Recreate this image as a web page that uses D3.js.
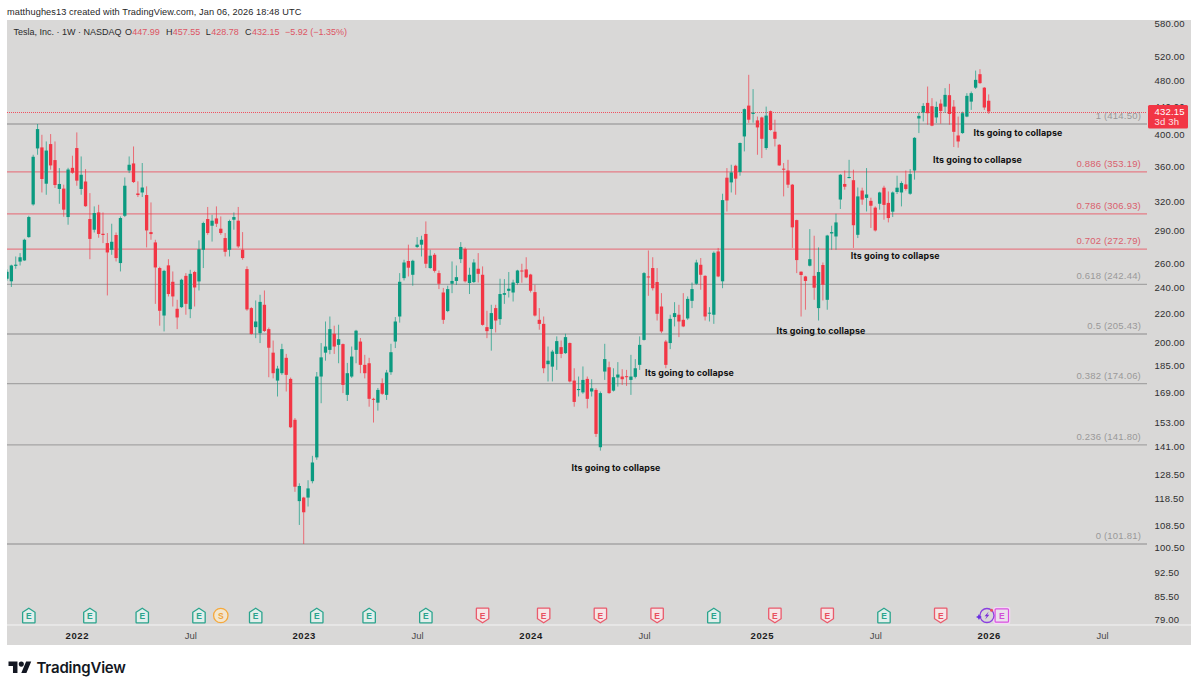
<!DOCTYPE html>
<html>
<head>
<meta charset="utf-8">
<script src="https://cdn.jsdelivr.net/npm/d3@7"></script>
<style>
    html, body { margin: 0; padding: 0; background: #fff; }
    svg { display: block; font-family: "Liberation Sans", sans-serif; }
    .domain { display: none; }
</style>
</head>
<body>
<svg id="chart"></svg>
<script>
// weekly candles
var opens = [
    247.1, 245, 258, 261.7, 262.7, 284, 316.8, 382, 383.3, 339.5,
    387.6, 367.4, 333.6, 334, 303.7, 358, 382.5, 333.6, 342, 301.7,
    291.1, 308.4, 287.2, 278.4, 272.2, 286, 260.4, 305, 354.8, 363.3,
    328.6, 329.7, 326.9, 288.8, 279, 256.1, 218.5, 258.4, 244.6, 223.5,
    224.7, 249.5, 223.2, 252.7, 244.9, 272.2, 301.7, 295, 302.3, 292.1,
    283.1, 272.2, 301, 300, 272.2, 255.2, 224, 210.2, 206, 226.5,
    208.8, 193, 175.8, 180.2, 189.7, 176.8, 154.2, 117.5, 118.9, 118.9,
    125.6, 136, 178.2, 193, 194.8, 205.6, 198.1, 198.6, 167.6, 178.2,
    194.8, 200.3, 185.3, 186.3, 165.4, 163.3, 174.3, 167.6, 180.8, 200.3,
    217.8, 247.6, 262.2, 250.4, 274.8, 276.9, 287, 256.1, 267.7, 251.8,
    236, 221.8, 243, 245.3, 263.8, 273, 243.6, 244.4, 255.5, 250.4,
    210.2, 208.9, 224, 215.9, 234.2, 237.3, 236, 243.6, 254, 254.9,
    250.6, 236.3, 215.4, 212.5, 185.7, 184.2, 192.2, 196.6, 192.7, 199.3,
    175.8, 170.3, 169, 176.8, 169.5, 170.4, 140.7, 181.2, 183.8, 170,
    177.6, 178.2, 178.4, 176.2, 178, 185.3, 201.4, 249, 256.1, 244.4,
    225.2, 200.3, 199.3, 217.4, 219.1, 215.4, 216.4, 229.5, 243, 258.9,
    249.5, 220, 219.1, 270.7, 245, 346.4, 341, 360.5, 353, 397.6,
    440.8, 428.7, 419.5, 423.7, 382.5, 432.6, 403.9, 386.7, 357, 354.8,
    338.4, 300.6, 253, 249, 258.1, 249.5, 224, 258.7, 230.3, 287.5,
    284.6, 322, 339.2, 346, 343.5, 286.2, 331.8, 323.8, 320.6, 313.4,
    317.5, 335, 318.4, 309.2, 330.2, 329.7, 338.7, 328.3, 354.8, 422.2,
    430.6, 444.8, 439.9, 423.7, 443.8, 439.3, 456.4, 439.3, 398.9, 402.1,
    424.9, 446.7, 468, 489.6, 468, 447.99
];
var highs = [
    255, 259, 266.2, 269.2, 282.5, 305, 374, 414.5, 399.8, 391,
    400.8, 391, 357.7, 338.4, 358, 372.8, 403, 371.9, 356.5, 329,
    314.7, 316.4, 308.4, 287.9, 297, 288.4, 304.3, 346.7, 371.9, 384.5,
    342.2, 363.8, 336.5, 318.9, 281.5, 257.2, 254.6, 263.8, 253.2, 230.3,
    247.1, 251.8, 254.6, 253.7, 280.9, 299, 314.1, 306, 314.7, 304.3,
    287.9, 301, 308.4, 314.1, 288.8, 257.5, 224.7, 229.8, 234.2, 237.6,
    209.9, 201, 184.7, 198.8, 192.2, 177.6, 155.1, 124.7, 119.2, 126,
    136.7, 180.9, 199.3, 214.2, 217.8, 211.2, 211.9, 199, 186.5, 197,
    208.3, 202.7, 191.6, 189.7, 166, 171.5, 177.1, 182.2, 198.8, 217.4,
    251.8, 263.3, 276.9, 263.3, 284, 285.3, 299.3, 272.2, 269.2, 254,
    239.6, 241.4, 261.8, 258.3, 279.3, 274.4, 256.4, 263.8, 269.2, 257.5,
    222, 226.5, 226.5, 247.1, 246.8, 252.7, 246.3, 254.6, 259.8, 265.5,
    251.2, 242.2, 224, 217.8, 197, 194.8, 203.8, 201, 205.6, 199.7,
    183.2, 178.2, 184.3, 178.2, 176.6, 171.4, 169.5, 198.8, 187.3, 183.2,
    187, 182.6, 182.2, 191.6, 188.9, 203.8, 252.7, 271.6, 265.5, 256.1,
    235.5, 201.4, 219.1, 228.5, 226.5, 235.5, 232.9, 244, 263.3, 264.8,
    250, 224.7, 270.7, 273.9, 328.3, 357.7, 361.7, 361.7, 389.7, 436.6,
    488.54, 465.8, 424.9, 424.9, 439.3, 433.5, 420.5, 387.6, 363.8, 367.7,
    339.2, 301, 253.2, 249.5, 291.7, 285.3, 274.4, 260.9, 286.2, 295,
    307.1, 350.6, 354.8, 367.7, 355.8, 335.2, 335, 357.7, 324, 314.7,
    330.5, 337.2, 330.8, 330.8, 348.7, 342.2, 354.8, 356.5, 396.7, 430.6,
    444.4, 469.8, 451.9, 446.7, 450, 467.3, 474, 449, 424.9, 432,
    459.5, 462, 495.5, 497.8, 469, 457.55
];
var lows = [
    245.5, 240.4, 255.5, 258.3, 262.4, 283.4, 315.5, 374, 329.7, 327.2,
    355.8, 334.7, 317.5, 304, 296, 351, 337.2, 327.2, 314.3, 263.8,
    288.4, 283.4, 278.4, 233.7, 267.7, 261.8, 253.2, 303.7, 351.8, 340.3,
    324.7, 324.7, 274.4, 281.5, 227.2, 211.2, 207.2, 232.9, 225.2, 208.8,
    224.2, 219.1, 216.6, 225.2, 237.6, 256.1, 286.2, 279.8, 293.8, 286.2,
    266.2, 266.2, 291.1, 273.9, 263.3, 222, 205, 202.6, 199.3, 206.8,
    177.8, 177.1, 166.7, 179.2, 169.5, 150, 121.2, 108.5, 101.81, 115.4,
    124.7, 134.9, 163, 187.9, 192, 192.2, 186.3, 168.6, 164.2, 177.4,
    186.3, 180.2, 177.1, 161.1, 152.8, 159, 167.6, 164.8, 179.2, 196,
    213.4, 245.7, 249, 241.4, 273.9, 266.2, 256.1, 255.5, 252.3, 238.7,
    212.5, 221, 235.5, 242, 260.4, 244, 234.8, 243.6, 244, 211.2,
    202.6, 194.3, 206.5, 211.8, 227.2, 232.1, 229, 242.2, 243.8, 247.6,
    236, 217.8, 208.4, 180.2, 175.3, 175.3, 182.2, 189.5, 192.2, 174.7,
    161.1, 166.7, 168.2, 160.2, 166.7, 145.6, 139.1, 176.2, 168.2, 169.5,
    172.3, 173.3, 172.7, 167.6, 177.1, 182.2, 201, 233.4, 237.6, 214.9,
    206, 183.2, 195.3, 210.7, 203.3, 210.2, 215.4, 224, 242.2, 238.2,
    214.9, 214.2, 212.5, 248.4, 239.4, 309.4, 329.7, 327.2, 348.7, 378.2,
    415.9, 416.3, 374, 369.9, 380.2, 405.3, 384.5, 360.5, 325.4, 334.7,
    273.9, 251.8, 217.8, 222.8, 257.5, 230.3, 214.9, 229.8, 222.8, 272.2,
    272.2, 312, 332.8, 345.6, 273.9, 283.1, 316.4, 309.4, 292.8, 289.4,
    311.3, 301, 298.3, 303.7, 328, 314.7, 331.8, 327.2, 344.2, 402.1,
    418.1, 413.5, 411.4, 415.9, 414.9, 430.1, 413.5, 383.8, 383, 401.2,
    424, 434.5, 466, 474, 434.5, 428.78
];
var closes = [
    252.9, 258.3, 259, 265.5, 281.5, 303.7, 371.5, 407.5, 344.9, 379.3,
    360.9, 338, 339.2, 311.3, 356, 352.2, 343, 349.8, 314.9, 282.3,
    307.8, 287, 286, 269.8, 279.6, 264.8, 302.7, 337.2, 361.7, 341.4,
    326.9, 335.2, 290.4, 286.9, 256.6, 222, 253.7, 234.8, 232.9, 217.1,
    246.3, 227.2, 251.2, 240, 272.7, 297.7, 287.9, 300, 297, 287.9,
    270.4, 299.7, 303.7, 275.3, 264.8, 223, 205.4, 214.2, 228.7, 207.5,
    196.2, 180.2, 183, 195.3, 179.2, 150.4, 123.3, 123.6, 113.2, 122.6,
    133.7, 178.2, 190, 197, 208.8, 197, 201.9, 173.3, 180.2, 190.5,
    207.7, 185.3, 180.2, 165.4, 165, 170.4, 168.2, 180.6, 193.3, 214.2,
    244.6, 260.9, 256.4, 262.4, 276.9, 281.5, 259.8, 266.9, 253.7, 243,
    215.4, 238.7, 245.3, 248.4, 274.8, 245, 250.4, 260.9, 251.2, 211.8,
    207.4, 220.3, 214.9, 234.8, 235.5, 239, 244, 254, 253.2, 248.2,
    237.4, 218.5, 212.5, 183.2, 187.9, 193.7, 200.6, 192.2, 203.3, 175.3,
    163.7, 170.9, 176.2, 165.4, 171.3, 147.1, 168.6, 188.9, 168.6, 177.8,
    179.4, 176.6, 178, 178.2, 183.2, 198.1, 251.8, 248.4, 239.4, 219.8,
    207.2, 185.3, 216.1, 220.3, 214.2, 210.7, 231, 238.7, 260.9, 250.4,
    217.8, 220.6, 269.5, 249, 321.4, 321, 352.5, 345.3, 389, 435.6,
    420.5, 430.6, 409.8, 394.5, 426.3, 406.3, 394.5, 360.9, 355.8, 338.4,
    293.4, 263, 250.2, 245.3, 263.8, 239.8, 252.7, 242.2, 285.5, 288.8,
    298.3, 349.8, 336.1, 347.2, 295.5, 325.4, 322, 327.5, 315.4, 290.4,
    329.7, 316.3, 302.7, 329.7, 335, 340.3, 333.6, 350.6, 395.8, 425.9,
    440.3, 429.7, 412.2, 438.9, 433, 456.9, 428.7, 403.8, 391, 429.7,
    455.4, 459.5, 480.4, 475.2, 438, 432.15
];

var firstWeek = '2021-09-13';
var lastWeek = '2026-01-05';

var priceTicks = [79, 85.5, 92.5, 100.5, 108.5, 118.5, 128.5, 141, 153, 169, 185, 200, 220, 240, 260, 290, 320, 360, 400, 440, 480, 520, 580];
var timeTicks = ['2022-01-03', '2022-07-04', '2023-01-02', '2023-07-03', '2024-01-01', '2024-07-01', '2025-01-06', '2025-07-07', '2026-01-05', '2026-07-06'];
var timeLabels = ['2022', 'Jul', '2023', 'Jul', '2024', 'Jul', '2025', 'Jul', '2026', 'Jul'];

var fibRatios = ['1', '0.886', '0.786', '0.702', '0.618', '0.5', '0.382', '0.236', '0'];
var fibPrices = [414.50, 353.19, 306.93, 272.79, 242.44, 205.43, 174.06, 141.80, 101.81];

var noteDates = ['2026-02-21', '2025-12-18', '2025-08-08', '2025-04-11', '2024-09-12', '2024-05-17'];
var notePrices = [402, 367.7, 266.5, 207.8, 180.2, 131.2];
var noteText = 'Its going to collapse';

var earningsWeeks = [5, 19, 31, 44, 57, 71, 83, 96, 109, 123, 136, 149, 162, 176, 188, 201, 214];
var earningsBeat = [1, 1, 1, 1, 1, 1, 1, 1, 0, 0, 0, 0, 1, 0, 0, 1, 0];
var nextEarningsWeek = 228;
var splitWeek = 49;
var dividendWeek = 224.6;

document.addEventListener('DOMContentLoaded', () => {
    var width = 1199;
    var height = 690;
    var left = 7;
    var right = 1191;
    var axisX = 1147;
    var top = 20;
    var plotBottom = 625;
    var bottom = 645;

    var green = '#0b9a80';
    var red = '#f23645';

    var svg = d3.select('#chart')
        .attr('width', width)
        .attr('height', height);

    // same scale as the tradingview pane, log prices and weeks
    var parse = d3.utcParse('%Y-%m-%d');
    var start = parse(firstWeek);
    var xScale = d3.scaleUtc()
        .domain([start, parse(lastWeek)])
        .range([7, 988.7]);
    var yScale = d3.scaleLog()
        .domain([101.81, 414.5])
        .range([544, 124]);
    var week = i => d3.utcHour.offset(start, Math.round(i * 168));

    svg.append('rect')
        .attr('x', left)
        .attr('y', top)
        .attr('width', right - left)
        .attr('height', bottom - top)
        .attr('fill', '#d9d8d7');
    svg.append('line')
        .attr('x1', left)
        .attr('x2', right)
        .attr('y1', plotBottom)
        .attr('y2', plotBottom)
        .attr('stroke', '#f4f4f4')
        .attr('stroke-width', 1);

    svg.append('clipPath')
        .attr('id', 'pane')
        .append('rect')
        .attr('x', left)
        .attr('y', top)
        .attr('width', axisX - left)
        .attr('height', plotBottom - top);

    var pane = svg.append('g').attr('clip-path', 'url(#pane)');

    // fib levels
    var fibRed = d => d.ratio > 0.7 && d.ratio < 0.9;
    var fibs = fibRatios.map((r, i) => ({ ratio: +r, name: r, price: fibPrices[i] }));
    pane.selectAll('.fib')
        .data(fibs)
        .enter()
        .append('line')
            .classed('fib', true)
            .attr('x1', left)
            .attr('x2', axisX)
            .attr('y1', d => yScale(d.price))
            .attr('y2', d => yScale(d.price))
            .attr('stroke', d => fibRed(d) ? '#e47d86' : '#a5a4a4')
            .attr('stroke-width', 1.3);
    svg.selectAll('.fib-label')
        .data(fibs)
        .enter()
        .append('text')
            .classed('fib-label', true)
            .text(d => d.name + ' (' + d.price.toFixed(2) + ')')
            .attr('x', axisX - 6)
            .attr('y', d => yScale(d.price) - 5)
            .attr('text-anchor', 'end')
            .attr('font-size', 9.5)
            .attr('letter-spacing', 0.2)
            .attr('fill', d => fibRed(d) ? '#d9606d' : '#9a9999');

    // last price line
    var lastClose = closes[closes.length - 1];
    pane.append('line')
        .attr('x1', left)
        .attr('x2', axisX)
        .attr('y1', Math.round(yScale(lastClose)) + 0.5)
        .attr('y2', Math.round(yScale(lastClose)) + 0.5)
        .attr('stroke', '#f0505f')
        .attr('stroke-width', 1)
        .attr('stroke-dasharray', '1 1');

    // candles
    var candles = opens.map((o, i) => ({ i: i, o: o, h: highs[i], l: lows[i], c: closes[i] }));
    var bars = pane.selectAll('.candle')
        .data(candles)
        .enter()
        .append('g')
            .classed('candle', true)
            .attr('fill', d => d.c >= d.o ? green : red)
            .attr('stroke', d => d.c >= d.o ? green : red);
    bars.append('line')
        .attr('x1', d => xScale(week(d.i)))
        .attr('x2', d => xScale(week(d.i)))
        .attr('y1', d => yScale(d.h))
        .attr('y2', d => yScale(d.l))
        .attr('stroke-width', 0.9)
        .attr('stroke-opacity', 0.75);
    bars.append('rect')
        .attr('x', d => xScale(week(d.i)) - 1.65)
        .attr('width', 3.3)
        .attr('y', d => yScale(Math.max(d.o, d.c)))
        .attr('height', d => Math.max(1, yScale(Math.min(d.o, d.c)) - yScale(Math.max(d.o, d.c))))
        .attr('stroke', 'none');

    // the notes on the chart
    svg.selectAll('.note')
        .data(noteDates)
        .enter()
        .append('text')
            .classed('note', true)
            .text(noteText)
            .attr('x', d => xScale(parse(d)))
            .attr('y', (d, i) => yScale(notePrices[i]))
            .attr('dy', '0.35em')
            .attr('text-anchor', 'middle')
            .attr('font-family', 'Inter')
            .attr('font-weight', 700)
            .attr('font-size', 8.9)
            .attr('letter-spacing', 0.1)
            .attr('fill', '#111');

    // axes
    var yAxis = d3.axisRight(yScale)
        .tickValues(priceTicks)
        .tickFormat(d3.format('.2f'))
        .tickSize(0)
        .tickPadding(0);
    var yG = svg.append('g')
        .attr('transform', 'translate(1154.5,0)')
        .call(yAxis);
    yG.selectAll('text')
        .attr('font-size', 9.5)
        .attr('letter-spacing', 0.2)
        .attr('fill', '#2f2f2f');

    var tickDates = timeTicks.map(parse);
    var xAxis = d3.axisBottom(xScale)
        .tickValues(tickDates)
        .tickFormat((d, i) => timeLabels[i])
        .tickSize(0)
        .tickPadding(0);
    var xG = svg.append('g')
        .attr('transform', 'translate(0,' + (plotBottom + 7) + ')')
        .call(xAxis);
    xG.selectAll('text')
        .attr('font-size', 9.5)
        .attr('font-weight', d => d.getUTCMonth() === 0 ? 700 : 400)
        .attr('letter-spacing', d => d.getUTCMonth() === 0 ? 0.6 : 0)
        .attr('fill', d => d.getUTCMonth() === 0 ? '#1c1c1c' : '#4a4a4a');

    // price box
    svg.append('rect')
        .attr('x', 1148)
        .attr('y', yScale(lastClose) - 6.5)
        .attr('width', 40)
        .attr('height', 23.5)
        .attr('rx', 1.5)
        .attr('fill', '#f23645');
    svg.append('text')
        .text(lastClose.toFixed(2))
        .attr('x', 1154.5)
        .attr('y', yScale(lastClose) + 3.7)
        .attr('font-size', 9.5)
        .attr('letter-spacing', 0.2)
        .attr('fill', '#fff');
    svg.append('text')
        .text('3d 3h')
        .attr('x', 1154.5)
        .attr('y', yScale(lastClose) + 13.9)
        .attr('font-size', 9.5)
        .attr('letter-spacing', 0.2)
        .attr('fill', '#fde3e5');

    // earnings flags along the bottom
    var flagY = 615.5;
    var flagUp = 'M-6.2,-3.2 L0,-7.3 L6.2,-3.2 L6.2,6.7 Q6.2,7.3 5.6,7.3 L-5.6,7.3 Q-6.2,7.3 -6.2,6.7 Z';
    var flagDown = 'M-6.2,-6.7 Q-6.2,-7.3 -5.6,-7.3 L5.6,-7.3 Q6.2,-7.3 6.2,-6.7 L6.2,3.2 L0,7.3 L-6.2,3.2 Z';
    var flags = svg.selectAll('.flag')
        .data(earningsWeeks)
        .enter()
        .append('g')
            .classed('flag', true)
            .attr('transform', d => 'translate(' + xScale(week(d)) + ',' + flagY + ')');
    flags.append('path')
        .attr('d', (d, i) => earningsBeat[i] ? flagUp : flagDown)
        .attr('fill', (d, i) => earningsBeat[i] ? '#e2eeeb' : '#f6e5e6')
        .attr('stroke', (d, i) => earningsBeat[i] ? '#2aa48d' : '#ea5a6c')
        .attr('stroke-width', 1.3);
    flags.append('text')
        .text('E')
        .attr('y', 3.2)
        .attr('text-anchor', 'middle')
        .attr('font-size', 8.5)
        .attr('font-weight', 700)
        .attr('fill', (d, i) => earningsBeat[i] ? '#2aa48d' : '#e8505f');

    var split = svg.append('g')
        .attr('transform', 'translate(' + xScale(week(splitWeek)) + ',' + flagY + ')');
    split.append('circle')
        .attr('r', 7.2)
        .attr('fill', '#f3e6cf')
        .attr('stroke', '#f5a93c')
        .attr('stroke-width', 1.3);
    split.append('text')
        .text('S')
        .attr('y', 3.2)
        .attr('text-anchor', 'middle')
        .attr('font-size', 8.5)
        .attr('font-weight', 700)
        .attr('fill', '#eea33a');

    var next = svg.append('g')
        .attr('transform', 'translate(' + xScale(week(nextEarningsWeek)) + ',' + flagY + ')');
    next.append('rect')
        .attr('x', -8.5)
        .attr('y', -8.5)
        .attr('width', 17)
        .attr('height', 17)
        .attr('rx', 2)
        .attr('fill', '#f4d8f5');
    next.append('rect')
        .attr('x', -6.7)
        .attr('y', -6.7)
        .attr('width', 13.4)
        .attr('height', 13.4)
        .attr('rx', 1)
        .attr('fill', '#ebe0ec')
        .attr('stroke', '#d850e0')
        .attr('stroke-width', 1.2);
    next.append('text')
        .text('E')
        .attr('y', 3.2)
        .attr('text-anchor', 'middle')
        .attr('font-size', 8.5)
        .attr('font-weight', 700)
        .attr('fill', '#d14fd8');

    var bolt = svg.append('g')
        .attr('transform', 'translate(' + xScale(week(dividendWeek)) + ',' + flagY + ')');
    bolt.append('circle')
        .attr('r', 7)
        .attr('fill', 'none')
        .attr('stroke', '#8a3fe0')
        .attr('stroke-width', 1.3);
    bolt.append('path')
        .attr('d', 'M1.8,-4 L-2.4,0.8 L-0.2,0.8 L-1.8,4 L2.4,-0.8 L0.2,-0.8 Z')
        .attr('fill', '#7a2fd8');
    bolt.append('path')
        .attr('d', 'M-8,-1.4 Q-7.4,1 -5,1.6 Q-7.4,2.2 -8,4.6 Q-8.6,2.2 -11,1.6 Q-8.6,1 -8,-1.4 Z')
        .attr('fill', '#6a2fe0');
    bolt.append('circle')
        .attr('cx', 4.6)
        .attr('cy', -5.2)
        .attr('r', 1.5)
        .attr('fill', '#ea4f5f');

    // heading and legend row
    svg.append('text')
        .text('matthughes13 created with TradingView.com, Jan 06, 2026 18:48 UTC')
        .attr('x', 7)
        .attr('y', 15)
        .attr('font-size', 9.2)
        .attr('letter-spacing', 0.1)
        .attr('fill', '#262626');

    var legend = svg.append('text')
        .attr('y', 34.5)
        .attr('font-size', 9);
    var dark = '#2a2a2a';
    var lite = '#dd5564';
    [
        [13.5, 'Tesla, Inc. · 1W · NASDAQ', dark],
        [125, 'O', dark], [132.3, opens[225].toFixed(2), lite],
        [166, 'H', dark], [172.8, highs[225].toFixed(2), lite],
        [205.7, 'L', dark], [211.3, lows[225].toFixed(2), lite],
        [245, 'C', dark], [252, closes[225].toFixed(2), lite],
        [285, '−5.92 (−1.35%)', lite]
    ].forEach(p => {
        legend.append('tspan')
            .attr('x', p[0])
            .attr('fill', p[2])
            .text(p[1]);
    });

    // logo
    var logo = svg.append('g')
        .attr('transform', 'translate(8.5,659) scale(0.64)')
        .attr('fill', '#131722');
    logo.append('path').attr('d', 'M14 22H7V11H0V4h14v18zM28 22h-8l7.5-18h8L28 22z');
    logo.append('circle').attr('cx', 20).attr('cy', 8).attr('r', 4);
    svg.append('text')
        .text('TradingView')
        .attr('x', 36.5)
        .attr('y', 673.3)
        .attr('font-family', 'Inter')
        .attr('font-weight', 600)
        .attr('font-size', 15)
        .attr('letter-spacing', -0.2)
        .attr('fill', '#131722');
})
</script>
</body>
</html>
